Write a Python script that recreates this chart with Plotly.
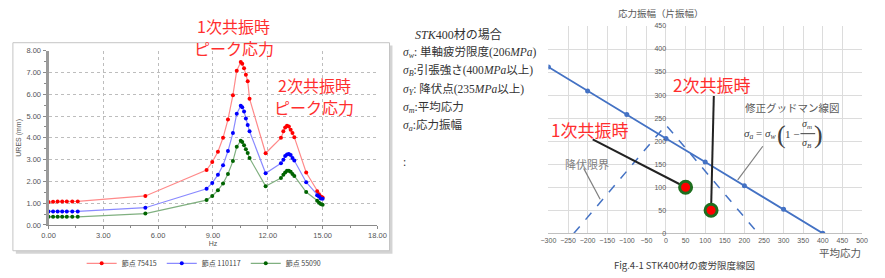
import plotly.graph_objects as go

W, H = 885, 278

# ---------------- Left chart data (frequency response) ----------------
hz = [0.0, 0.25, 0.5, 0.75, 1.0, 1.3, 1.6, 5.3, 8.65, 8.96, 9.27, 9.55, 9.82, 10.09, 10.3,
      10.52, 10.6, 10.7, 10.8, 10.9, 11.0, 11.88, 12.72, 12.85, 12.95, 13.05, 13.15,
      13.25, 13.35, 13.45, 14.1, 14.7, 14.8, 14.9, 15.0]
node_75415 = [1.05, 1.06, 1.07, 1.08, 1.08, 1.08, 1.08, 1.33, 2.52, 2.89, 3.36, 4.0, 4.84,
              5.96, 7.08, 7.48, 7.4, 7.2, 6.9, 6.6, 5.8, 3.29, 4.0, 4.3, 4.47, 4.55, 4.52,
              4.37, 4.22, 4.03, 2.41, 1.55, 1.41, 1.3, 1.26]
node_110117 = [0.62, 0.62, 0.62, 0.62, 0.62, 0.62, 0.62, 0.79, 1.66, 1.93, 2.3, 2.74, 3.39,
               4.22, 5.11, 5.47, 5.4, 5.21, 4.89, 4.59, 4.3, 2.37, 2.83, 2.99, 3.16, 3.23,
               3.26, 3.21, 3.07, 2.96, 1.96, 1.36, 1.3, 1.21, 1.2]
node_55090 = [0.37, 0.37, 0.37, 0.37, 0.37, 0.37, 0.37, 0.52, 1.14, 1.33, 1.59, 1.9, 2.34,
              2.93, 3.59, 3.87, 3.81, 3.66, 3.48, 3.3, 3.07, 1.78, 2.15, 2.3, 2.41, 2.49,
              2.49, 2.44, 2.34, 2.25, 1.51, 1.11, 1.02, 0.96, 0.93]
series_names = ["節点 75415", "節点 110117", "節点 55090"]

# ---------------- Right chart data (fatigue limit diagram) ----------------
goodman_x = [-300, -200, -100, 0, 100, 200, 300, 400]
goodman_y = [361, 309, 258, 206, 155, 103, 52, 0]
yield_x = [-235, 0, 235]
yield_y = [0, 235, 0]
res_x = [50, 115]
res_y = [100, 50]
leader1_x = [-187, 50]
leader1_y = [204, 100]
leader2_x = [122, 115]
leader2_y = [298, 50]
ptr_goodman_x = [247, 183]
ptr_goodman_y = [189, 116]
ptr_yield_x = [-210, -168]
ptr_yield_y = [141, 74]

JP = "Noto Sans CJK JP, Noto Sans, sans-serif"
SERIF = "Liberation Serif, Noto Sans CJK JP, serif"
RED = "#ff2e2e"


def px(x):
    return x / W


def py(y):
    return 1 - y / H


fig = go.Figure()

line_cols = ["#ff8a8a", "#8a8aff", "#80b080"]
mark_cols = ["#ff0000", "#0000ff", "#006400"]
for name, ys, lc, mc in zip(series_names, [node_75415, node_110117, node_55090], line_cols, mark_cols):
    fig.add_trace(go.Scatter(
        x=hz, y=ys, name=name, mode="lines+markers",
        line=dict(color=lc, width=1.2),
        marker=dict(color=mc, size=4),
        xaxis="x", yaxis="y", showlegend=True))

# right chart traces
fig.add_trace(go.Scatter(x=yield_x, y=yield_y, mode="lines",
                         line=dict(color="#4472c4", width=1.5, dash="dash"),
                         xaxis="x2", yaxis="y2", showlegend=False))
fig.add_trace(go.Scatter(x=goodman_x, y=goodman_y, mode="lines+markers",
                         line=dict(color="#4472c4", width=1.8),
                         marker=dict(color="#4472c4", size=5),
                         xaxis="x2", yaxis="y2", showlegend=False))
for lx, ly in [(ptr_goodman_x, ptr_goodman_y), (ptr_yield_x, ptr_yield_y)]:
    fig.add_trace(go.Scatter(x=lx, y=ly, mode="lines",
                             line=dict(color="#7f7f7f", width=1.2),
                             xaxis="x2", yaxis="y2", showlegend=False))
for lx, ly in [(leader1_x, leader1_y), (leader2_x, leader2_y)]:
    fig.add_trace(go.Scatter(x=lx, y=ly, mode="lines",
                             line=dict(color="#222222", width=2),
                             xaxis="x2", yaxis="y2", showlegend=False))
fig.add_trace(go.Scatter(x=res_x, y=res_y, mode="markers",
                         marker=dict(color="#ff0000", size=12,
                                     line=dict(color="#1f6e1f", width=3)),
                         xaxis="x2", yaxis="y2", showlegend=False))

ann = []


def text(x, y, s, size, color="#404040", font=JP, xanchor="center", yanchor="middle"):
    ann.append(dict(x=px(x), y=py(y), xref="paper", yref="paper", text=s, showarrow=False,
                    font=dict(size=size, color=color, family=font),
                    xanchor=xanchor, yanchor=yanchor))


# left chart annotations
text(230, 23, "1次共振時", 16, RED)
text(230, 45, "ピーク応力", 16, RED)
text(312, 84, "2次共振時", 16, RED)
text(312, 106, "ピーク応力", 16, RED)

# middle explanatory text
text(459, 32, "<i>STK</i>400材の場合", 12, "#333333", SERIF)
mid_lines = [
    (50, "<i>σ<sub>w</sub></i>: 単軸疲労限度(206<i>MPa</i>)"),
    (69, "<i>σ<sub>B</sub></i>:引張強さ(400<i>MPa</i>以上)"),
    (88, "<i>σ<sub>Y</sub></i>: 降伏点(235<i>MPa</i>以上)"),
    (107, "<i>σ<sub>m</sub></i>:平均応力"),
    (126, "<i>σ<sub>a</sub></i>:応力振幅"),
    (163, ":"),
]
for yy, s in mid_lines:
    text(401, yy, s, 11.5, "#333333", SERIF, xanchor="left")

# right chart annotations
text(666, 9, "応力振幅（片振幅）", 9.5, "#595959")
text(848, 257, "平均応力", 10.5, "#595959")
text(690, 270, "Fig.4-1 STK400材の疲労限度線図", 9.5, "#404040")
text(717, 83, "2次共振時", 17, RED)
text(593, 130, "1次共振時", 17, RED)
text(800, 107, "修正グッドマン線図", 10.5, "#595959")
text(590, 165, "降伏限界", 11, "#7f7f7f")
# Goodman formula
text(767, 134, "<i>σ<sub>a</sub></i> = <i>σ<sub>w</sub></i>", 11, "#404040", SERIF)
text(789, 135, "(", 26, "#404040", SERIF)
text(799, 134, "1 −", 11, "#404040", SERIF)
text(815, 125, "<i>σ<sub>m</sub></i>", 10, "#404040", SERIF)
text(815, 144, "<i>σ<sub>B</sub></i>", 10, "#404040", SERIF)
text(826, 135, ")", 26, "#404040", SERIF)

shapes = [
    # left chart frame shadow + frame
    dict(type="rect", xref="paper", yref="paper", x0=px(8), x1=px(392), y0=py(258), y1=py(43),
         fillcolor="#d4d4d4", line=dict(width=0), layer="below"),
    dict(type="rect", xref="paper", yref="paper", x0=px(5), x1=px(389), y0=py(255), y1=py(40),
         fillcolor="#ffffff", line=dict(color="#c4c4c4", width=1), layer="below"),
    # fraction bar
    dict(type="line", xref="paper", yref="paper", x0=px(808), x1=px(823), y0=py(134), y1=py(134),
         line=dict(color="#404040", width=1)),
]

tickf = dict(size=7.5, color="#555555", family="Liberation Sans, Arial, sans-serif")
tickf2 = dict(size=7, color="#595959", family="Liberation Sans, Arial, sans-serif")
titf = dict(size=7, color="#555555", family="Liberation Sans, Arial, sans-serif")

fig.update_layout(
    width=W, height=H, margin=dict(l=0, r=0, t=0, b=0),
    paper_bgcolor="#ffffff", plot_bgcolor="rgba(0,0,0,0)",
    xaxis=dict(domain=[px(41.3), px(376.7)], range=[0, 18], dtick=3, tickformat=".2f",
               anchor="y", showgrid=True, gridcolor="#bdbdbd", griddash="dot", gridwidth=1,
               zeroline=False, showline=True, linecolor="#8a8a8a", linewidth=1,
               ticks="outside", ticklen=3, tickcolor="#8a8a8a", tickfont=tickf, tickangle=0,
               title=dict(text="Hz", font=titf, standoff=2),
               minor=dict(dtick=1.5, ticks="outside", ticklen=2, tickcolor="#8a8a8a", showgrid=False)),
    yaxis=dict(domain=[py(228.3), py(48.3)], range=[0, 8], dtick=1, tickformat=".2f",
               anchor="x", showgrid=True, gridcolor="#bdbdbd", griddash="dot", gridwidth=1,
               zeroline=False, showline=True, linecolor="#9a9a9a", linewidth=3,
               ticks="outside", ticklen=3, tickcolor="#8a8a8a", tickfont=tickf,
               title=dict(text="URES (mm)", font=titf, standoff=4),
               minor=dict(dtick=0.5, ticks="outside", ticklen=2, tickcolor="#8a8a8a", showgrid=False)),
    xaxis2=dict(domain=[px(551), px(870.7)], range=[-300, 500], dtick=50, anchor="y2",
                showgrid=True, gridcolor="#dcdcdc", gridwidth=1, zeroline=False,
                showline=True, linecolor="#c0c0c0", ticks="", tickfont=tickf2, tickangle=0),
    yaxis2=dict(domain=[py(237), py(22.7)], range=[0, 450], dtick=50, anchor="free",
                position=px(671), showgrid=True, gridcolor="#dcdcdc", gridwidth=1,
                zeroline=False, showline=False, ticks="", tickfont=tickf2),
    legend=dict(orientation="h", x=px(200), y=py(268), xanchor="center", yanchor="middle",
                font=dict(size=7, color="#444444", family=JP), bgcolor="rgba(0,0,0,0)",
                itemwidth=30, tracegroupgap=0),
    annotations=ann, shapes=shapes,
)

fig.write_html("out.html")
